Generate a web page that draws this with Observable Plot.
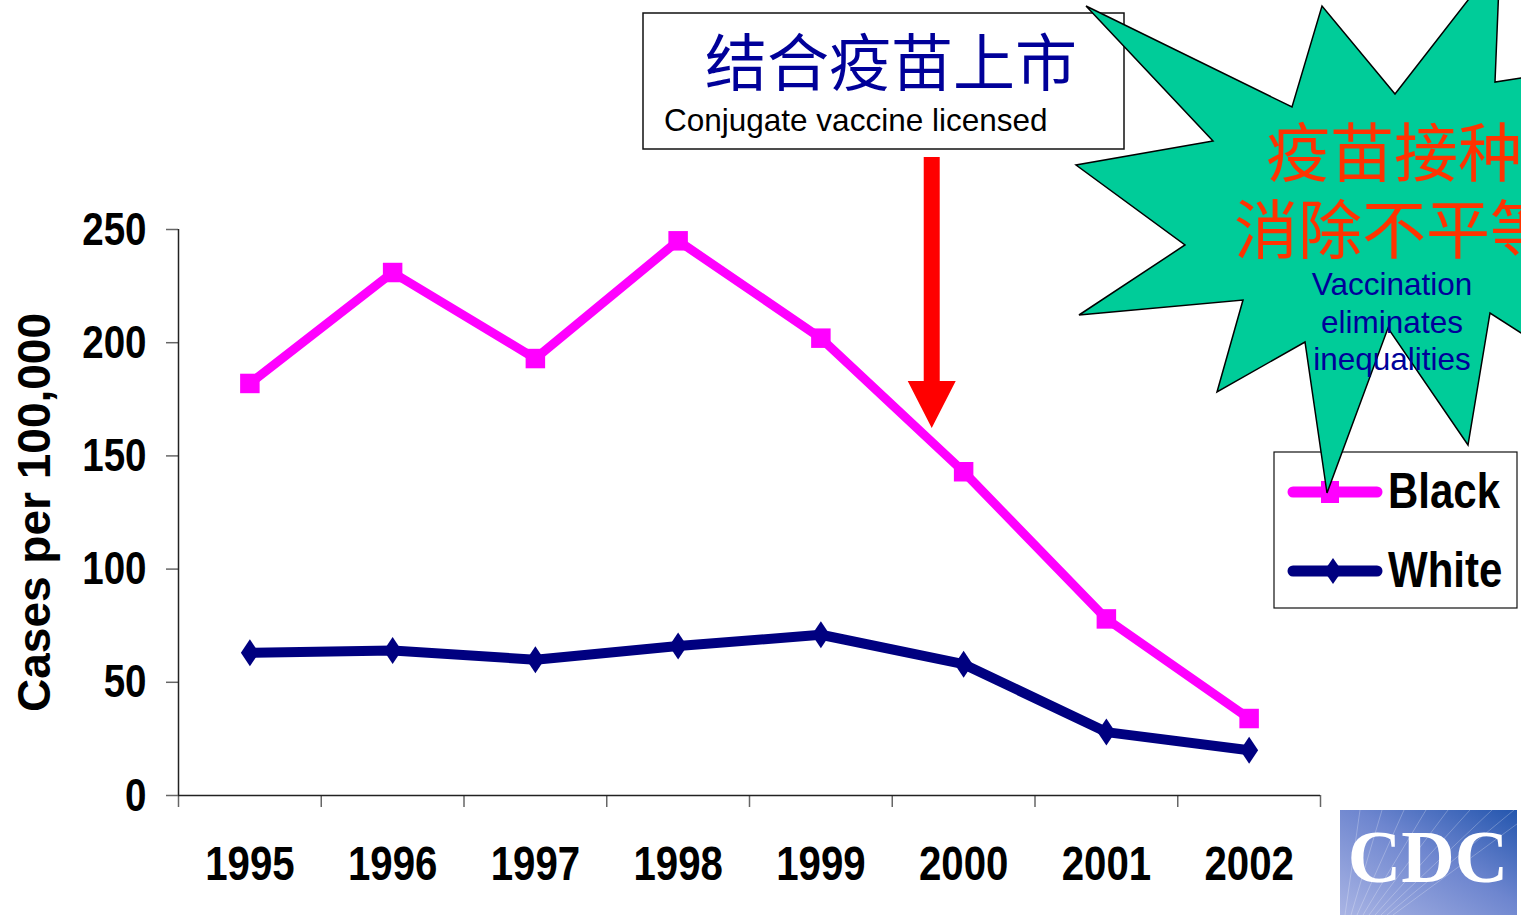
<!DOCTYPE html>
<html>
<head>
<meta charset="utf-8">
<script src="https://cdn.jsdelivr.net/npm/d3@7"></script>
<script src="https://cdn.jsdelivr.net/npm/@observablehq/plot@0.6"></script>
<style>
  html, body { margin: 0; padding: 0; background: #fff; overflow: hidden; }
  #chart svg { display: block; max-width: none; }
</style>
</head>
<body>
<div id="chart"></div>
<script>
// ---- data ----
const years = [1995, 1996, 1997, 1998, 1999, 2000, 2001, 2002];
const blackRates = [182, 231, 193, 245, 202, 143, 78, 34];
const whiteRates = [63, 64, 60, 66, 71, 58, 28, 20];
const seriesNames = ["Black", "White"];
const seriesColors = ["#FF00FF", "#000080"];
const yTicks = [0, 50, 100, 150, 200, 250];
const yLabel = "Cases per 100,000";
const licensedZh = "结合疫苗上市";
const licensedEn = "Conjugate vaccine licensed";
const licensedYear = 1999.78;
const starZh = ["疫苗接种", "消除不平等"];
const starEn = ["Vaccination", "eliminates", "inequalities"];
const logoText = "CDC";

const rows = years.flatMap((yr, i) => [
  {year: yr, series: seriesNames[0], value: blackRates[i]},
  {year: yr, series: seriesNames[1], value: whiteRates[i]}
]);
const boundaries = d3.range(years[0] - 0.5, years[years.length - 1] + 1, 1);
const colorOf = d => seriesColors[seriesNames.indexOf(d.series)];

const sans = "'Liberation Sans', Arial, sans-serif";
const squeeze = 0.82; // reference labels are horizontally condensed

const tallDiamond = {
  draw(ctx, size) {
    const w = Math.sqrt(size / Math.PI);
    const h = w * 1.5;
    ctx.moveTo(0, -h); ctx.lineTo(w, 0); ctx.lineTo(0, h); ctx.lineTo(-w, 0); ctx.closePath();
  }
};

const blackRows = rows.filter(d => d.series === "Black");
const whiteRows = rows.filter(d => d.series === "White");

const plot = Plot.plot({
  width: 1521,
  height: 915,
  marginLeft: 178,
  marginRight: 201,
  marginTop: 229,
  marginBottom: 120,
  style: {background: "white", overflow: "hidden"},
  x: {type: "linear", domain: [years[0] - 0.5, years[years.length - 1] + 0.5]},
  y: {domain: [0, 250]},
  marks: [
    Plot.axisX({ticks: boundaries, tickSize: 12, tickFormat: () => "", label: null, stroke: "#666", strokeWidth: 1.5}),
    Plot.axisX({ticks: years, tickSize: 0, tickPadding: 50, tickFormat: d => String(d), label: null,
      fontSize: 49, fontWeight: "bold", fontFamily: sans, fill: "#000"}),
    Plot.axisY({ticks: yTicks, tickSize: 12, tickPadding: 20, label: null,
      fontSize: 47, fontWeight: "bold", fontFamily: sans, fill: "#000", stroke: "#666", strokeWidth: 1.5}),
    Plot.ruleY([0], {stroke: "#222", strokeWidth: 1.5}),
    Plot.ruleX([years[0] - 0.5], {stroke: "#222", strokeWidth: 1.5}),
    Plot.text([yLabel], {frameAnchor: "left", textAnchor: "middle", rotate: -90, dx: -143, fontSize: 46,
      fontWeight: "bold", fontFamily: sans, fill: "#000"}),
    Plot.line(whiteRows, {x: "year", y: "value", stroke: colorOf, strokeWidth: 10, strokeLinejoin: "miter"}),
    Plot.dot(whiteRows, {x: "year", y: "value", fill: colorOf, r: 9, symbol: tallDiamond, stroke: null}),
    Plot.line(blackRows, {x: "year", y: "value", stroke: colorOf, strokeWidth: 9, strokeLinejoin: "miter"}),
    Plot.dot(blackRows, {x: "year", y: "value", fill: colorOf, r: 11, symbol: "square", stroke: null})
  ]
});
document.getElementById("chart").appendChild(plot);

const svg = d3.select(plot);

// condense labels horizontally (reference uses a narrow bold face)
function condense(sel, k) {
  sel.each(function() {
    const len = this.getComputedTextLength();
    if (len > 0) {
      d3.select(this).attr("textLength", len * k).attr("lengthAdjust", "spacingAndGlyphs");
    }
  });
}
condense(svg.selectAll('g[aria-label="x-axis tick label"] text'), squeeze);
condense(svg.selectAll('g[aria-label="y-axis tick label"] text'), squeeze);

// ---- annotations ----
const sx = plot.scale("x");
const g = svg.append("g").attr("text-anchor", "start");

// licensing text box
g.append("rect").attr("x", 643).attr("y", 13).attr("width", 481).attr("height", 136)
  .attr("fill", "white").attr("stroke", "#111").attr("stroke-width", 1.5);
g.append("text").attr("x", 891).attr("y", 59).attr("text-anchor", "middle")
  .attr("dominant-baseline", "central")
  .attr("font-family", "'Noto Sans CJK SC', sans-serif").attr("font-size", 62)
  .attr("fill", "#000099").text(licensedZh);
g.append("text").attr("x", 664).attr("y", 131).attr("text-anchor", "start")
  .attr("font-family", sans).attr("font-size", 31.5).attr("fill", "#000").text(licensedEn);

// red arrow
const ax = sx.apply(licensedYear);
g.append("path")
  .attr("d", `M${ax - 8},157 L${ax + 8},157 L${ax + 8},381 L${ax + 24},381 L${ax},428 L${ax - 24},381 L${ax - 8},381 Z`)
  .attr("fill", "#FF0000");

// legend
const lg = g.append("g");
lg.append("rect").attr("x", 1274).attr("y", 452).attr("width", 243).attr("height", 156)
  .attr("fill", "white").attr("stroke", "#111").attr("stroke-width", 1.2);
const legendYs = [492, 571];
seriesNames.forEach((name, i) => {
  const y = legendYs[i];
  lg.append("line").attr("x1", 1293).attr("x2", 1377).attr("y1", y).attr("y2", y)
    .attr("stroke", seriesColors[i]).attr("stroke-width", 11).attr("stroke-linecap", "round");
  if (i === 0) {
    lg.append("rect").attr("x", 1321).attr("y", y - 11).attr("width", 18).attr("height", 22).attr("fill", seriesColors[i]);
  } else {
    lg.append("path").attr("d", `M1333,${y - 13} L1342,${y} L1333,${y + 13} L1324,${y} Z`).attr("fill", seriesColors[i]);
  }
  const t = lg.append("text").attr("x", 1388).attr("y", y + 16).attr("text-anchor", "start")
    .attr("font-family", sans).attr("font-weight", "bold").attr("font-size", 50)
    .attr("fill", "#000").text(name);
  condense(t, 0.84);
});

// starburst
const star = [
  [1086, 6], [1292, 107], [1322, 6], [1395, 94], [1500, -41], [1495, 82], [1521, 78],
  [1600, 70], [1600, 320], [1521, 333], [1490, 313], [1468, 445], [1388, 328],
  [1327, 493], [1305, 342], [1217, 392], [1243, 300], [1079, 315], [1185, 245],
  [1076, 165], [1213, 141]
];
g.append("path").attr("d", "M" + star.map(p => p.join(",")).join("L") + "Z")
  .attr("fill", "#00CC99").attr("stroke", "#000").attr("stroke-width", 1.5).attr("stroke-linejoin", "miter");
const starCx = 1394;
[148, 225].forEach((y, i) => {
  g.append("text").attr("x", starCx).attr("y", y).attr("text-anchor", "middle")
    .attr("dominant-baseline", "central")
    .attr("font-family", "'Noto Sans CJK SC', sans-serif").attr("font-size", 64)
    .attr("fill", "#FF3300").text(starZh[i]);
});
[295, 333, 370].forEach((y, i) => {
  g.append("text").attr("x", 1392).attr("y", y).attr("text-anchor", "middle")
    .attr("font-family", sans).attr("font-size", 31.5).attr("fill", "#000099").text(starEn[i]);
});

// CDC logo
const defs = svg.append("defs");
const grad = defs.append("linearGradient").attr("id", "cdcgrad")
  .attr("x1", "0%").attr("y1", "100%").attr("x2", "100%").attr("y2", "0%");
grad.append("stop").attr("offset", "0%").attr("stop-color", "#A9B4E4");
grad.append("stop").attr("offset", "55%").attr("stop-color", "#6E86CF");
grad.append("stop").attr("offset", "100%").attr("stop-color", "#2456AE");
const logo = g.append("g");
logo.append("rect").attr("x", 1340).attr("y", 810).attr("width", 177).attr("height", 105).attr("fill", "url(#cdcgrad)");
for (let k = 0; k < 9; k++) {
  logo.append("line").attr("x1", 1345 + k * 6).attr("y1", 915)
    .attr("x2", 1360 + k * 22).attr("y2", 810)
    .attr("stroke", "white").attr("stroke-opacity", 0.25).attr("stroke-width", 1);
}
logo.append("text").attr("x", 1428).attr("y", 882).attr("text-anchor", "middle")
  .attr("font-family", "'Liberation Serif', 'DejaVu Serif', serif").attr("font-weight", "bold")
  .attr("font-size", 74).attr("fill", "white").text(logoText);
</script>
</body>
</html>
